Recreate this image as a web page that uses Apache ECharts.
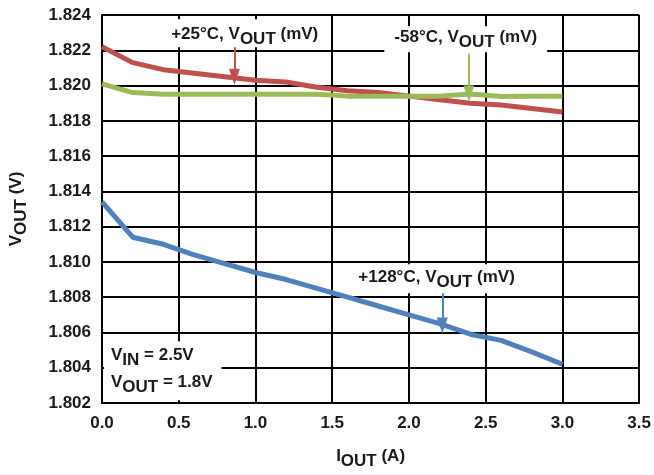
<!DOCTYPE html>
<html><head><meta charset="utf-8">
<script src="https://cdn.jsdelivr.net/npm/echarts@6/dist/echarts.min.js"></script>
<style>html,body{margin:0;padding:0;background:#fff}#c{width:654px;height:475px}</style>
</head><body><div id="c"></div>
<script>
const currents = [0, 0.2, 0.4, 0.6, 0.8, 1.0, 1.2, 1.4, 1.6, 1.8, 2.0, 2.2, 2.4, 2.6, 2.8, 3.0];
const vout25 = [1.8222, 1.8213, 1.8209, 1.8207, 1.8205, 1.8203, 1.8202, 1.8199, 1.8197, 1.8196, 1.8194, 1.8192, 1.8190, 1.8189, 1.8187, 1.8185];
const voutM58 = [1.8201, 1.8196, 1.8195, 1.8195, 1.8195, 1.8195, 1.8195, 1.8195, 1.8194, 1.8194, 1.8194, 1.8194, 1.81952, 1.81938, 1.8194, 1.8194];
const vout128 = [1.8134, 1.8114, 1.8110, 1.8104, 1.8099, 1.8094, 1.8090, 1.8085, 1.8080, 1.8075, 1.8070, 1.8065, 1.8059, 1.80555, 1.8049, 1.8042];
const xTicks = ['0.0','0.5','1.0','1.5','2.0','2.5','3.0','3.5'];
const seriesNames = ['+25°C', '-58°C', '+128°C'];
const colors = ['#C0504D', '#9BBB59', '#4F81BD'];

const FONT = '"Liberation Sans", Arial, sans-serif';
const TXT = '#1a1a1a';
const FS = 17;
function mkRich(lh) {
  return {
    n: {fontFamily: FONT, fontWeight: 'bold', fontSize: FS, color: TXT, lineHeight: lh, padding: [0, 0, 5, 0]},
    s: {fontFamily: FONT, fontWeight: 'bold', fontSize: FS, color: TXT, lineHeight: lh, padding: [5, 0, 0, 0]}
  };
}
const rich = mkRich(18);
const rich2 = mkRich(27);
function lbl(name) { return '{n|' + name + ', V}{s|OUT}{n| (mV)}'; }
function pts(ys) { return currents.map((x, i) => [x, ys[i]]); }
function note(coord, text, pad, extra) {
  return {coord: coord, symbol: 'rect', symbolSize: 0,
    label: Object.assign({show: true, position: 'inside', formatter: text, rich: rich, backgroundColor: '#fff', padding: pad}, extra || {})};
}
function arrow(x, y0, y1, color) {
  return {silent: true, symbol: ['none', 'triangle'], symbolSize: [11, 16], animation: false,
    lineStyle: {color: color, width: 2, type: 'solid'}, label: {show: false}, emphasis: {disabled: true},
    itemStyle: {color: color},
    data: [[{coord: [x, y0]}, {coord: [x, y1]}]]};
}

const chart = echarts.init(document.getElementById('c'), null, {renderer: 'canvas'});
chart.setOption({
  animation: false,
  backgroundColor: '#fff',
  grid: {left: 99, right: 12, top: 15, bottom: 65, containLabel: false},
  xAxis: {
    type: 'value', min: 0, max: 3.5, interval: 0.5,
    name: '{n|I}{s|OUT}{n| (A)}', nameLocation: 'middle', nameGap: 47,
    nameTextStyle: {rich: rich},
    axisLine: {show: true, onZero: false, lineStyle: {color: '#000', width: 2}},
    axisTick: {show: false},
    splitLine: {show: true, lineStyle: {color: '#000', width: 2}},
    axisLabel: {margin: 12, fontFamily: FONT, fontWeight: 'bold', fontSize: FS, color: TXT,
      formatter: v => xTicks[Math.round(v / 0.5)]}
  },
  yAxis: {
    type: 'value', min: 1.802, max: 1.824, interval: 0.002,
    name: '{n|V}{s|OUT}{n| (V)}', nameLocation: 'middle', nameGap: 74, nameRotate: 90,
    nameTextStyle: {rich: rich},
    axisLine: {show: true, onZero: false, lineStyle: {color: '#000', width: 2}},
    axisTick: {show: false},
    splitLine: {show: true, lineStyle: {color: '#000', width: 2}},
    axisLabel: {margin: 11, fontFamily: FONT, fontWeight: 'bold', fontSize: FS, color: TXT,
      formatter: v => v.toFixed(3)}
  },
  series: [
    {name: seriesNames[0], type: 'line', data: pts(vout25), symbol: 'none', z: 3,
      lineStyle: {color: colors[0], width: 5}, itemStyle: {color: colors[0]},
      markLine: arrow(0.863, 1.82228, 1.8205, colors[0]),
      markPoint: {data: [note([0.93, 1.82296], lbl('+25°C'), [8, 10, 2, 10])]}},
    {name: seriesNames[1], type: 'line', data: pts(voutM58), symbol: 'none', z: 4,
      lineStyle: {color: colors[1], width: 5}, itemStyle: {color: colors[1]},
      markLine: arrow(2.39, 1.8218, 1.81955, colors[1]),
      markPoint: {data: [note([2.37, 1.82262], lbl('-58°C'), [4, 10, 4, 10])]}},
    {name: seriesNames[2], type: 'line', data: pts(vout128), symbol: 'none', z: 3,
      lineStyle: {color: colors[2], width: 5}, itemStyle: {color: colors[2]},
      markLine: arrow(2.217, 1.8083, 1.8064, colors[2]),
      markPoint: {data: [
        note([2.18, 1.80905], lbl('+128°C'), [7, 10, 4, 10]),
        note([0.013, 1.8055], '{n|V}{s|IN}{n| = 2.5V}\n{n|V}{s|OUT}{n| = 1.8V}', [3, 9, 2, 7],
          {rich: rich2, align: 'left', verticalAlign: 'top'})
      ]}}
  ]
});
</script></body></html>
